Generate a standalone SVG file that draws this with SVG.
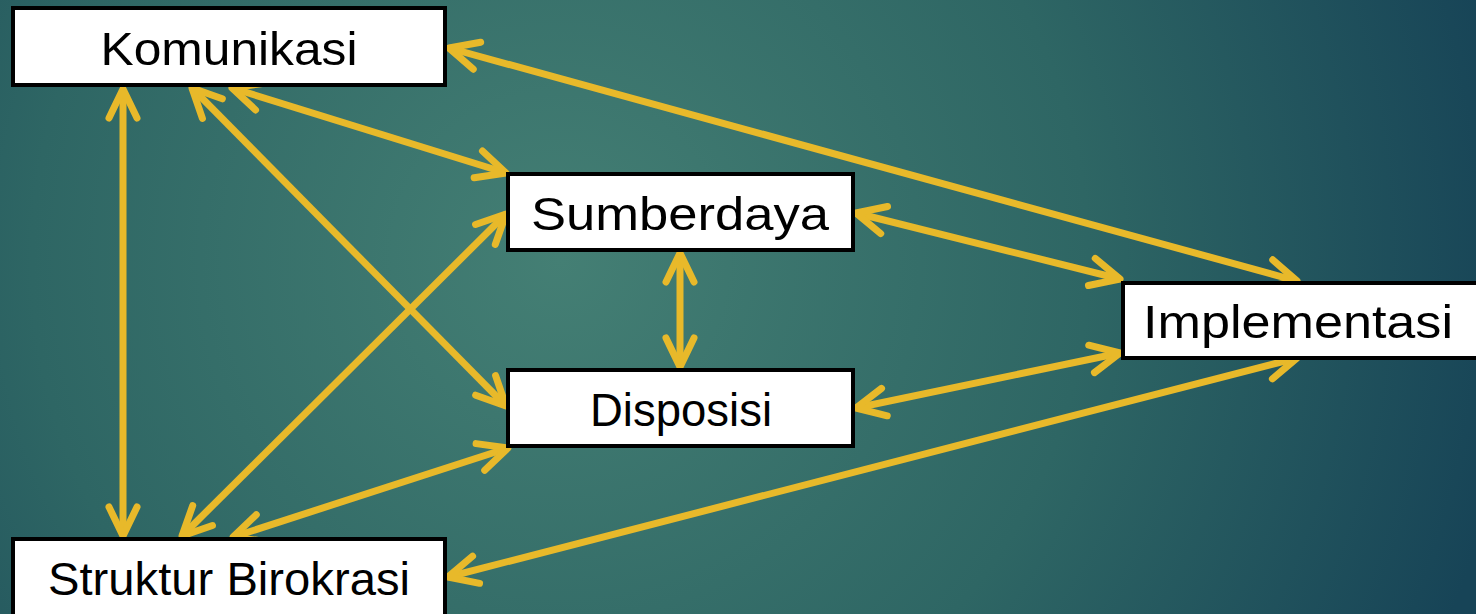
<svg xmlns="http://www.w3.org/2000/svg" width="1476" height="614" viewBox="0 0 1476 614">
<defs>
<radialGradient id="bg" gradientUnits="userSpaceOnUse" cx="560" cy="260" r="960">
<stop offset="0" stop-color="#447F74"/>
<stop offset="0.55" stop-color="#2E6664"/>
<stop offset="1" stop-color="#174457"/>
</radialGradient>
<marker id="ah" markerUnits="userSpaceOnUse" viewBox="-40 -20 50 40" refX="0" refY="0" markerWidth="50" markerHeight="40" orient="auto-start-reverse">
<path d="M -29 -14 L 0 0 L -29 14" fill="none" stroke="#E8B92A" stroke-width="7" stroke-linecap="round" stroke-linejoin="round"/>
</marker>
</defs>
<style>
.box{fill:#FFFFFF;stroke:#000000;stroke-width:4}
.lbl{font-family:"Liberation Sans",Arial,sans-serif;font-size:47px;fill:#000000;text-anchor:middle}
.c{stroke:#E8B92A;stroke-width:7;fill:none;marker-start:url(#ah);marker-end:url(#ah)}
</style>
<rect x="0" y="0" width="1476" height="614" fill="url(#bg)"/>
<g id="connectors">
<line class="c" x1="449" y1="48" x2="1297" y2="281"/>
<line class="c" x1="232" y1="88" x2="506" y2="173"/>
<line class="c" x1="192" y1="88" x2="506" y2="406"/>
<line class="c" x1="123" y1="89" x2="123" y2="536"/>
<line class="c" x1="506" y1="214" x2="182" y2="536"/>
<line class="c" x1="508" y1="448" x2="233" y2="537"/>
<line class="c" x1="448" y1="577" x2="1297" y2="358"/>
<line class="c" x1="856" y1="213" x2="1120" y2="279"/>
<line class="c" x1="856" y1="408" x2="1120" y2="353"/>
<line class="c" x1="680" y1="253" x2="680" y2="367"/>
</g>
<g id="komunikasi">
<rect class="box" x="13" y="8" width="432" height="77"/>
<text class="lbl" x="229" y="65" textLength="257" lengthAdjust="spacingAndGlyphs">Komunikasi</text>
</g>
<g id="sumberdaya">
<rect class="box" x="508" y="174" width="345" height="76"/>
<text class="lbl" x="680" y="230" textLength="298" lengthAdjust="spacingAndGlyphs">Sumberdaya</text>
</g>
<g id="disposisi">
<rect class="box" x="508" y="370" width="345" height="76"/>
<text class="lbl" x="681" y="426" textLength="182" lengthAdjust="spacingAndGlyphs">Disposisi</text>
</g>
<g id="implementasi">
<rect class="box" x="1123" y="283" width="360" height="75"/>
<text class="lbl" x="1298" y="338" textLength="310" lengthAdjust="spacingAndGlyphs">Implementasi</text>
</g>
<g id="struktur">
<rect class="box" x="13" y="539" width="432" height="90"/>
<text class="lbl" x="229" y="595" textLength="362" lengthAdjust="spacingAndGlyphs">Struktur Birokrasi</text>
</g>
</svg>
